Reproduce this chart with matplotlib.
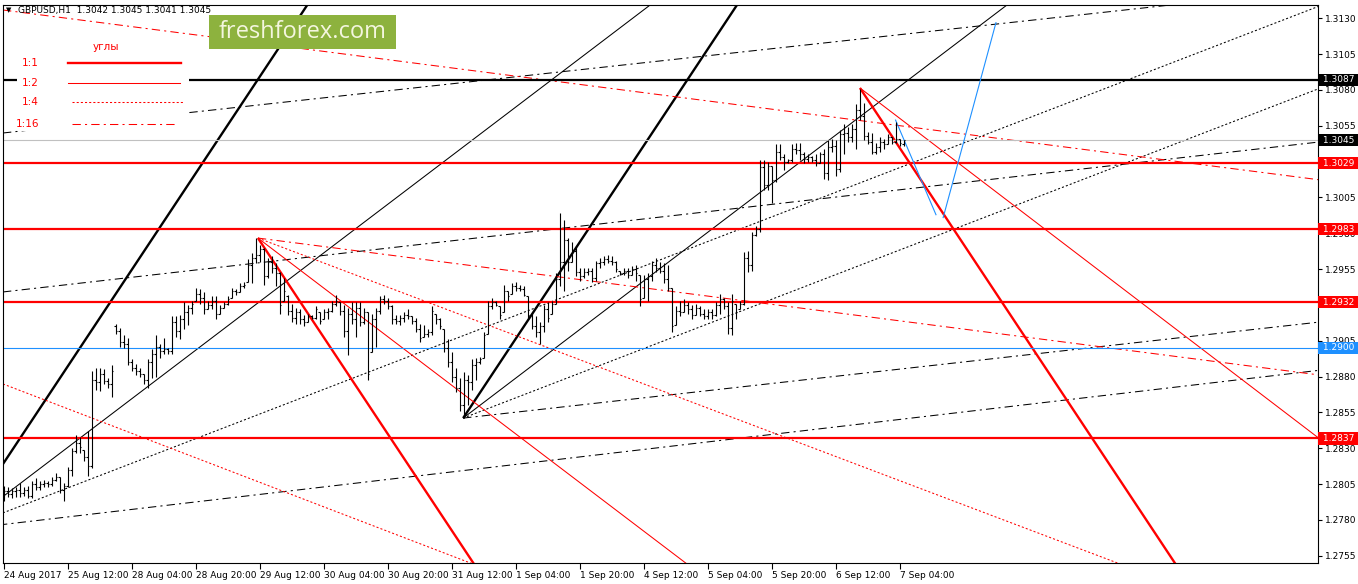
import numpy as np
import matplotlib
matplotlib.use("Agg")
import matplotlib.pyplot as plt
from matplotlib.collections import LineCollection
from matplotlib.patches import Rectangle
from matplotlib.lines import Line2D
from matplotlib.transforms import blended_transform_factory

plt.rcParams['font.family'] = ['DejaVu Sans']
plt.rcParams['lines.scale_dashes'] = False

# ---- GBPUSD H1 bars, 24 Aug 20:00 .. 7 Sep 05:00 ----
opens = [
    1.2798, 1.2800, 1.2798, 1.2800, 1.2801, 1.2799, 1.2801, 1.2797, 1.2805, 1.2803,
    1.2805, 1.2806, 1.2805, 1.2808, 1.2810, 1.2801, 1.2804, 1.2815, 1.2828, 1.2834,
    1.2829, 1.2824, 1.2818, 1.2878, 1.2876, 1.2882, 1.2877, 1.2875, 1.2915, 1.2912,
    1.2904, 1.2903, 1.2890, 1.2886, 1.2884, 1.2882, 1.2878, 1.2890, 1.2896, 1.2901,
    1.2898, 1.2899, 1.2898, 1.2918, 1.2912, 1.2920, 1.2925, 1.2928, 1.2933, 1.2938,
    1.2935, 1.2927, 1.2930, 1.2933, 1.2924, 1.2928, 1.2931, 1.2935, 1.2940, 1.2939,
    1.2943, 1.2946, 1.2958, 1.2963, 1.2965, 1.2969, 1.2950, 1.2960, 1.2956, 1.2952,
    1.2933, 1.2936, 1.2926, 1.2921, 1.2925, 1.2920, 1.2918, 1.2922, 1.2921, 1.2925,
    1.2920, 1.2925, 1.2926, 1.2931, 1.2932, 1.2926, 1.2912, 1.2924, 1.2920, 1.2928,
    1.2918, 1.2925, 1.2897, 1.2920, 1.2926, 1.2934, 1.2933, 1.2929, 1.2920, 1.2919,
    1.2921, 1.2923, 1.2922, 1.2919, 1.2913, 1.2908, 1.2910, 1.2911, 1.2924, 1.2920,
    1.2913, 1.2900, 1.2890, 1.2880, 1.2872, 1.2860, 1.2878, 1.2876, 1.2888, 1.2890,
    1.2893, 1.2910, 1.2929, 1.2932, 1.2929, 1.2925, 1.2940, 1.2938, 1.2943, 1.2942,
    1.2941, 1.2936, 1.2923, 1.2915, 1.2911, 1.2915, 1.2927, 1.2924, 1.2931, 1.2948,
    1.2960, 1.2975, 1.2960, 1.2968, 1.2953, 1.2950, 1.2953, 1.2954, 1.2949, 1.2959,
    1.2960, 1.2962, 1.2961, 1.2960, 1.2954, 1.2952, 1.2954, 1.2951, 1.2955, 1.2951,
    1.2935, 1.2948, 1.2950, 1.2958, 1.2956, 1.2954, 1.2948, 1.2942, 1.2916, 1.2926,
    1.2925, 1.2930, 1.2927, 1.2923, 1.2928, 1.2924, 1.2922, 1.2925, 1.2923, 1.2930,
    1.2934, 1.2929, 1.2914, 1.2931, 1.2927, 1.2931, 1.2963, 1.2958, 1.2979, 1.2983,
    1.3026, 1.3014, 1.3027, 1.3017, 1.3037, 1.3033, 1.3030, 1.3031, 1.3039, 1.3038,
    1.3035, 1.3032, 1.3033, 1.3031, 1.3029, 1.3035, 1.3022, 1.3040, 1.3041, 1.3025,
    1.3049, 1.3050, 1.3047, 1.3053, 1.3066, 1.3062, 1.3048, 1.3044, 1.3037, 1.3040,
    1.3044, 1.3042, 1.3047, 1.3044, 1.3046, 1.3042,
]
highs = [
    1.2804, 1.2803, 1.2802, 1.2803, 1.2806, 1.2803, 1.2804, 1.2807, 1.2809, 1.2807,
    1.2808, 1.2807, 1.2810, 1.2813, 1.2810, 1.2806, 1.2817, 1.2830, 1.2839, 1.2838,
    1.2829, 1.2842, 1.2884, 1.2886, 1.2886, 1.2885, 1.2879, 1.2888, 1.2917, 1.2914,
    1.2909, 1.2907, 1.2892, 1.2889, 1.2886, 1.2882, 1.2892, 1.2899, 1.2909, 1.2903,
    1.2907, 1.2900, 1.2922, 1.2922, 1.2923, 1.2932, 1.2930, 1.2933, 1.2942, 1.2941,
    1.2939, 1.2933, 1.2936, 1.2936, 1.2930, 1.2932, 1.2936, 1.2942, 1.2941, 1.2945,
    1.2946, 1.2962, 1.2966, 1.2977, 1.2972, 1.2970, 1.2963, 1.2964, 1.2959, 1.2953,
    1.2949, 1.2937, 1.2931, 1.2928, 1.2927, 1.2923, 1.2924, 1.2923, 1.2929, 1.2925,
    1.2927, 1.2928, 1.2933, 1.2937, 1.2932, 1.2930, 1.2928, 1.2932, 1.2932, 1.2932,
    1.2928, 1.2925, 1.2924, 1.2928, 1.2936, 1.2937, 1.2935, 1.2930, 1.2923, 1.2923,
    1.2925, 1.2927, 1.2922, 1.2921, 1.2917, 1.2916, 1.2913, 1.2929, 1.2924, 1.2921,
    1.2913, 1.2906, 1.2897, 1.2886, 1.2879, 1.2883, 1.2881, 1.2892, 1.2893, 1.2894,
    1.2911, 1.2933, 1.2935, 1.2933, 1.2929, 1.2944, 1.2940, 1.2945, 1.2946, 1.2944,
    1.2943, 1.2936, 1.2924, 1.2922, 1.2918, 1.2930, 1.2932, 1.2933, 1.2952, 1.2994,
    1.2989, 1.2977, 1.2974, 1.2971, 1.2956, 1.2956, 1.2956, 1.2956, 1.2961, 1.2963,
    1.2964, 1.2965, 1.2964, 1.2961, 1.2954, 1.2956, 1.2956, 1.2957, 1.2958, 1.2951,
    1.2951, 1.2952, 1.2961, 1.2963, 1.2960, 1.2959, 1.2958, 1.2942, 1.2929, 1.2933,
    1.2934, 1.2932, 1.2930, 1.2931, 1.2929, 1.2927, 1.2927, 1.2927, 1.2932, 1.2938,
    1.2935, 1.2932, 1.2938, 1.2931, 1.2933, 1.2967, 1.2968, 1.2981, 1.2985, 1.3031,
    1.3031, 1.3030, 1.3027, 1.3042, 1.3042, 1.3035, 1.3032, 1.3042, 1.3043, 1.3043,
    1.3037, 1.3035, 1.3034, 1.3035, 1.3037, 1.3039, 1.3045, 1.3046, 1.3045, 1.3052,
    1.3056, 1.3054, 1.3056, 1.3070, 1.3081, 1.3071, 1.3051, 1.3050, 1.3043, 1.3047,
    1.3046, 1.3049, 1.3047, 1.3058, 1.3046, 1.3045,
]
lows = [
    1.2793, 1.2796, 1.2795, 1.2796, 1.2796, 1.2797, 1.2795, 1.2795, 1.2801, 1.2801,
    1.2803, 1.2803, 1.2804, 1.2807, 1.2799, 1.2793, 1.2803, 1.2811, 1.2827, 1.2827,
    1.2821, 1.2811, 1.2816, 1.2871, 1.2870, 1.2875, 1.2872, 1.2866, 1.2910, 1.2901,
    1.2900, 1.2888, 1.2884, 1.2881, 1.2880, 1.2875, 1.2872, 1.2879, 1.2880, 1.2893,
    1.2896, 1.2896, 1.2896, 1.2908, 1.2906, 1.2913, 1.2916, 1.2924, 1.2933, 1.2931,
    1.2924, 1.2927, 1.2927, 1.2920, 1.2924, 1.2928, 1.2930, 1.2935, 1.2937, 1.2939,
    1.2942, 1.2946, 1.2945, 1.2959, 1.2960, 1.2944, 1.2949, 1.2952, 1.2943, 1.2924,
    1.2933, 1.2923, 1.2918, 1.2917, 1.2917, 1.2915, 1.2918, 1.2920, 1.2920, 1.2917,
    1.2920, 1.2920, 1.2925, 1.2929, 1.2923, 1.2908, 1.2895, 1.2917, 1.2908, 1.2915,
    1.2917, 1.2878, 1.2897, 1.2901, 1.2924, 1.2931, 1.2927, 1.2917, 1.2917, 1.2916,
    1.2918, 1.2920, 1.2917, 1.2911, 1.2904, 1.2908, 1.2908, 1.2909, 1.2917, 1.2913,
    1.2897, 1.2887, 1.2876, 1.2869, 1.2856, 1.2851, 1.2860, 1.2871, 1.2878, 1.2889,
    1.2893, 1.2910, 1.2927, 1.2929, 1.2920, 1.2925, 1.2933, 1.2938, 1.2940, 1.2940,
    1.2936, 1.2921, 1.2913, 1.2908, 1.2903, 1.2911, 1.2918, 1.2924, 1.2931, 1.2943,
    1.2940, 1.2954, 1.2960, 1.2950, 1.2947, 1.2949, 1.2951, 1.2946, 1.2947, 1.2956,
    1.2958, 1.2959, 1.2958, 1.2953, 1.2951, 1.2951, 1.2949, 1.2951, 1.2947, 1.2929,
    1.2935, 1.2933, 1.2947, 1.2953, 1.2952, 1.2945, 1.2940, 1.2911, 1.2916, 1.2922,
    1.2925, 1.2924, 1.2920, 1.2923, 1.2922, 1.2920, 1.2920, 1.2920, 1.2922, 1.2924,
    1.2927, 1.2910, 1.2909, 1.2920, 1.2927, 1.2930, 1.2953, 1.2954, 1.2978, 1.2981,
    1.3010, 1.3010, 1.3001, 1.3016, 1.3031, 1.3024, 1.3029, 1.3030, 1.3035, 1.3031,
    1.3029, 1.3030, 1.3030, 1.3027, 1.3029, 1.3018, 1.3017, 1.3037, 1.3020, 1.3023,
    1.3035, 1.3044, 1.3044, 1.3039, 1.3059, 1.3045, 1.3042, 1.3035, 1.3035, 1.3037,
    1.3039, 1.3042, 1.3042, 1.3043, 1.3041, 1.3041,
]
closes = [
    1.2800, 1.2798, 1.2800, 1.2801, 1.2799, 1.2801, 1.2797, 1.2805, 1.2803, 1.2805,
    1.2806, 1.2805, 1.2808, 1.2810, 1.2801, 1.2804, 1.2815, 1.2828, 1.2834, 1.2831,
    1.2824, 1.2818, 1.2878, 1.2876, 1.2882, 1.2877, 1.2875, 1.2884, 1.2912, 1.2904,
    1.2903, 1.2890, 1.2886, 1.2884, 1.2882, 1.2878, 1.2890, 1.2896, 1.2901, 1.2898,
    1.2899, 1.2898, 1.2918, 1.2912, 1.2920, 1.2925, 1.2928, 1.2931, 1.2938, 1.2935,
    1.2927, 1.2930, 1.2933, 1.2924, 1.2928, 1.2931, 1.2934, 1.2940, 1.2939, 1.2943,
    1.2944, 1.2958, 1.2963, 1.2965, 1.2969, 1.2950, 1.2960, 1.2956, 1.2952, 1.2930,
    1.2940, 1.2926, 1.2921, 1.2925, 1.2920, 1.2918, 1.2922, 1.2921, 1.2927, 1.2919,
    1.2925, 1.2926, 1.2931, 1.2933, 1.2926, 1.2912, 1.2924, 1.2920, 1.2928, 1.2918,
    1.2925, 1.2882, 1.2920, 1.2926, 1.2934, 1.2933, 1.2929, 1.2920, 1.2919, 1.2921,
    1.2923, 1.2922, 1.2919, 1.2913, 1.2907, 1.2910, 1.2911, 1.2926, 1.2920, 1.2915,
    1.2900, 1.2890, 1.2880, 1.2872, 1.2860, 1.2878, 1.2876, 1.2888, 1.2890, 1.2892,
    1.2909, 1.2929, 1.2932, 1.2930, 1.2923, 1.2940, 1.2936, 1.2943, 1.2942, 1.2941,
    1.2937, 1.2923, 1.2915, 1.2911, 1.2915, 1.2927, 1.2921, 1.2931, 1.2948, 1.2960,
    1.2975, 1.2960, 1.2968, 1.2953, 1.2950, 1.2953, 1.2954, 1.2949, 1.2959, 1.2960,
    1.2962, 1.2961, 1.2960, 1.2955, 1.2952, 1.2954, 1.2951, 1.2955, 1.2952, 1.2934,
    1.2948, 1.2950, 1.2958, 1.2956, 1.2954, 1.2948, 1.2942, 1.2915, 1.2926, 1.2925,
    1.2930, 1.2927, 1.2923, 1.2928, 1.2924, 1.2922, 1.2925, 1.2923, 1.2930, 1.2934,
    1.2929, 1.2914, 1.2933, 1.2925, 1.2931, 1.2963, 1.2958, 1.2979, 1.2983, 1.3026,
    1.3014, 1.3027, 1.3017, 1.3037, 1.3033, 1.3030, 1.3031, 1.3039, 1.3038, 1.3035,
    1.3032, 1.3033, 1.3031, 1.3029, 1.3035, 1.3022, 1.3040, 1.3041, 1.3025, 1.3049,
    1.3050, 1.3047, 1.3053, 1.3066, 1.3062, 1.3048, 1.3044, 1.3037, 1.3040, 1.3044,
    1.3042, 1.3047, 1.3044, 1.3046, 1.3043, 1.3045,
]

# x axis labels every 16 bars
tick_bars = [0, 16, 32, 48, 64, 80, 96, 112, 128, 144, 160, 176, 192, 208, 224]
tick_labels = ['24 Aug 2017', '25 Aug 12:00', '28 Aug 04:00', '28 Aug 20:00',
               '29 Aug 12:00', '30 Aug 04:00', '30 Aug 20:00', '31 Aug 12:00',
               '1 Sep 04:00', '1 Sep 20:00', '4 Sep 12:00', '5 Sep 04:00',
               '5 Sep 20:00', '6 Sep 12:00', '7 Sep 04:00']

# price scale ticks (the ones hidden under level labels stay blank)
price_ticks = [1.2755, 1.2780, 1.2805, 1.2830, 1.2855, 1.2880, 1.2905, 1.2930,
               1.2955, 1.2980, 1.3005, 1.3030, 1.3055, 1.3080, 1.3105, 1.3130]
price_tick_labels = ['1.2755', '1.2780', '1.2805', '1.2830', '1.2855', '1.2880', '1.2905', '',
                     '1.2955', '1.2980', '1.3005', '', '1.3055', '1.3080', '1.3105', '1.3130']

# horizontal levels
level_prices = [1.3087, 1.3045, 1.3029, 1.2983, 1.2932, 1.2900, 1.2837]
level_kind = ['black', 'bid', 'red', 'red', 'red', 'blue', 'red']

# gann rays: start bar, start price, slope (price per bar), angle, side
ray_bar = [-11.0, -11.0, -11.0, -11.0,
           114.9, 114.9, 114.9, 114.9,
           -0.125, -0.125,
           63.6, 63.6, 63.6, 63.6,
           214.1, 214.1,
           -0.125, -0.125]
ray_price = [1.27733, 1.27733, 1.27733, 1.27733,
             1.28511, 1.28511, 1.28511, 1.28511,
             1.29391, 1.30500,
             1.29767, 1.29767, 1.29767, 1.29767,
             1.30814, 1.30814,
             1.28749, 1.31358]
ray_slope = [4.21e-4, 2.12e-4, 1.0745e-4, 3.27e-5,
             4.21e-4, 2.12e-4, 1.0745e-4, 3.13e-5,
             3.18e-5, 3.06e-5,
             -4.21e-4, -2.12e-4, -1.055e-4, -3.6e-5,
             -4.21e-4, -2.13e-4,
             -1.069e-4, -3.6e-5]
ray_angle = ['1:1', '1:2', '1:4', '1:16',
             '1:1', '1:2', '1:4', '1:16',
             '1:16', '1:16',
             '1:1', '1:2', '1:4', '1:16',
             '1:1', '1:2',
             '1:4', '1:16']
ray_side = ['buy'] * 10 + ['sell'] * 8

# blue forecast path (two trend lines)
path_bars = [[223.0, 233.1], [234.9, 248.1]]
path_prices = [[1.3059, 1.2993], [1.2991, 1.3127]]

W, H = 1358, 584
fig = plt.figure(figsize=(W / 100, H / 100), dpi=100)
ax = fig.add_axes([3 / W, 21 / H, 1315 / W, 558 / H])
ax.set_xlim(-0.125, 328.6)
ax.set_ylim(1.27500, 1.31393)

angle_style = {
    '1:1': dict(lw=1.7, ls='-'),
    '1:2': dict(lw=0.75, ls='-'),
    '1:4': dict(lw=0.75, ls=(0, (1.5, 1.5))),
    '1:16': dict(lw=0.75, ls=(0, (6, 3, 1.5, 3))),
}
side_color = {'buy': 'black', 'sell': '#ff0000'}
x_end = 330
for b0, p0, s, ang, side in zip(ray_bar, ray_price, ray_slope, ray_angle, ray_side):
    ax.plot([b0, x_end], [p0, p0 + s * (x_end - b0)], color=side_color[side],
            zorder=2, solid_capstyle='butt', **angle_style[ang])

level_style = {
    'black': dict(color='black', lw=1.6),
    'bid': dict(color='#c0c0c0', lw=0.8),
    'red': dict(color='#ff0000', lw=1.6),
    'blue': dict(color='#1e90ff', lw=0.8),
}
for p, k in zip(level_prices, level_kind):
    ax.axhline(p, zorder=2, **level_style[k])

for bx, py in zip(path_bars, path_prices):
    ax.plot(bx, py, color='#1e90ff', lw=0.8, zorder=2)

# OHLC bars
segs = []
for i, (o, h, l, c) in enumerate(zip(opens, highs, lows, closes)):
    segs.append([(i, l), (i, h)])
    segs.append([(i - 0.45, o), (i, o)])
    segs.append([(i, c), (i + 0.45, c)])
ax.add_collection(LineCollection(segs, colors='black', linewidths=0.8, zorder=3))

# axes look
for sp in ax.spines.values():
    sp.set_linewidth(0.8)
ax.yaxis.tick_right()
ax.set_yticks(price_ticks)
ax.set_yticklabels(price_tick_labels)
ax.tick_params(axis='y', direction='out', length=3, width=0.8, pad=2, labelsize=6.5)
ax.set_xticks(tick_bars)
ax.set_xticklabels(tick_labels)
ax.tick_params(axis='x', direction='out', length=4, width=0.8, pad=2, labelsize=6.5)
for lab in ax.get_xticklabels():
    lab.set_ha('left')

# price labels on the right scale
trans = blended_transform_factory(ax.transAxes, ax.transData)
label_bg = {'black': 'black', 'bid': 'black', 'red': '#ff0000', 'blue': '#1e90ff'}
for p, k in zip(level_prices, level_kind):
    ax.text(1.0015, p, f' {p:.4f}  ', transform=trans, ha='left', va='center',
            fontsize=6.5, color='white', zorder=5, clip_on=False,
            bbox=dict(boxstyle='square,pad=0.2', fc=label_bg[k], ec='none'))

def fx(x):
    return x / W

def fy(y):
    return 1 - y / H

# header
fig.text(fx(6), fy(10), '▼', fontsize=5, color='black', va='center')
fig.text(fx(18), fy(10), 'GBPUSD,H1  1.3042 1.3045 1.3041 1.3045', fontsize=6.5,
         color='black', va='center')

# logo
fig.patches.append(Rectangle((fx(209), fy(49)), 187 / W, 34 / H, transform=fig.transFigure,
                             fc='#8db23e', ec='none', zorder=4))
fig.text(fx(302.5), fy(32.5), 'freshforex.com', fontsize=17, family='Open Sans',
         color='#f4f6df', ha='center', va='center', zorder=5)

# legend of angles
fig.patches.append(Rectangle((fx(17), fy(131)), 172 / W, 93 / H, transform=fig.transFigure,
                             fc='white', ec='none', zorder=4))
fig.text(fx(93), fy(47), 'углы', fontsize=7.5, color='#ff0000', va='center', zorder=5)
legend_rows = [('1:1', 63, 68, 181), ('1:2', 83, 68, 180), ('1:4', 102, 72, 183), ('1:16', 124, 72, 175)]
for name, yy, x0, x1 in legend_rows:
    fig.text(fx(39), fy(yy), name, fontsize=7.5, color='#ff0000', va='center', ha='right', zorder=5)
    fig.lines.append(Line2D([fx(x0), fx(x1)], [fy(yy), fy(yy)], transform=fig.transFigure,
                            color='#ff0000', zorder=5, **angle_style[name]))

fig.savefig('out.png', dpi=100)
